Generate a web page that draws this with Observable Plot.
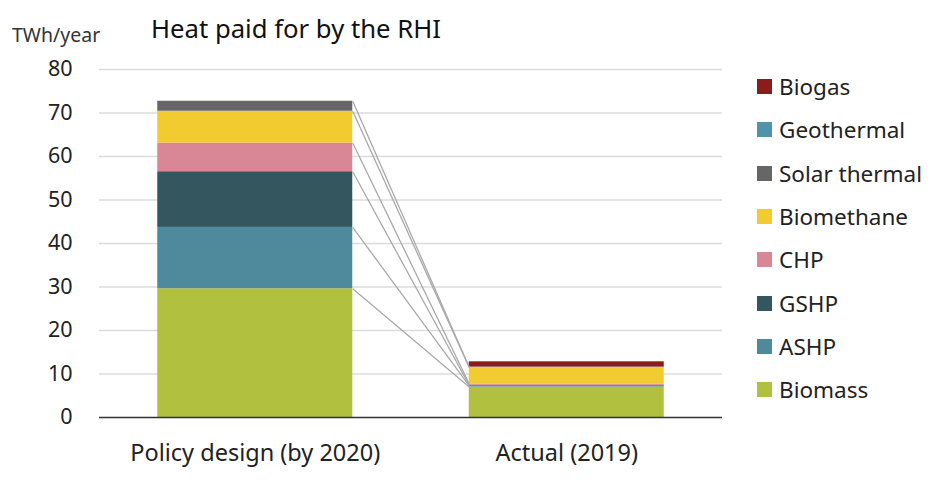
<!DOCTYPE html>
<html>
<head>
<meta charset="utf-8">
<script src="https://cdn.jsdelivr.net/npm/d3@7"></script>
<script src="https://cdn.jsdelivr.net/npm/@observablehq/plot@0.6"></script>
<style>
  html, body { margin: 0; padding: 0; background: #fff; }
  #wrap { position: relative; width: 936px; height: 490px; font-family: "Noto Sans", "Open Sans", sans-serif; color: #222; }
  #title { position: absolute; left: 151px; top: 14px; font-size: 25.7px; color: #111; white-space: nowrap; line-height: 1.2; }
  #unit { position: absolute; left: 12px; top: 23px; font-size: 19.5px; color: #333; white-space: nowrap; line-height: 1.2; }
  #legend { position: absolute; left: 757px; top: 65px; }
  .row { display: flex; align-items: center; height: 43.3px; font-size: 22.5px; color: #222; white-space: nowrap; }
  .sw { width: 15px; height: 15px; margin-right: 7px; flex: none; }
  svg { position: absolute; left: 0; top: 0; }
</style>
</head>
<body>
<div id="wrap">
  <div id="unit">TWh/year</div>
  <div id="title">Heat paid for by the RHI</div>
  <div id="legend"></div>
</div>
<script>
// Categories (bars)
const categories = ["Policy design (by 2020)", "Actual (2019)"];
// Series, bottom of stack first
const series = ["Biomass", "ASHP", "GSHP", "CHP", "Biomethane", "Solar thermal", "Geothermal", "Biogas"];
const colors = ["#b2c040", "#4e8a9b", "#33565f", "#d98797", "#f2cb31", "#666666", "#4f94a8", "#8a1c1c"];
// Values (TWh/year) per series for each category
const policyValues = [29.6, 14.1, 12.8, 6.6, 7.3, 2.3, 0, 0];
const actualValues = [7.0, 0.25, 0.15, 0.3, 3.8, 0.05, 0.05, 1.2];
const yTicks = [0, 10, 20, 30, 40, 50, 60, 70, 80];

const halfWidth = 0.313;
const valuesByCat = [policyValues, actualValues];

// Stacked rectangles
const rects = [];
const tops = [];
valuesByCat.forEach((vals, ci) => {
  let acc = 0;
  const t = [];
  vals.forEach((v, si) => {
    rects.push({cat: ci, series: series[si], y1: acc, y2: acc + v, value: v});
    acc += v;
    t.push(acc);
  });
  tops.push(t);
});
const rectsShown = rects.filter(d => d.value > 0);

// Series lines connecting the top of each series between bars
const links = series
  .map((s, si) => ({series: s, y1: tops[0][si], y2: tops[1][si], v: policyValues[si]}))
  .filter(d => d.v > 0);

const chart = Plot.plot({
  width: 936,
  height: 490,
  marginLeft: 99,
  marginRight: 214,
  marginTop: 69,
  marginBottom: 73,
  style: {fontFamily: "'Noto Sans', 'Open Sans', sans-serif", background: "transparent", color: "#222"},
  x: {domain: [-0.5, 1.5], axis: null},
  y: {domain: [0, 80], axis: null},
  color: {domain: series, range: colors},
  marks: [
    Plot.ruleY(yTicks.filter(d => d > 0), {stroke: "#dcdcdc", strokeWidth: 1.3}),
    Plot.rect(rectsShown, {
      x1: d => d.cat - halfWidth,
      x2: d => d.cat + halfWidth,
      y1: "y1",
      y2: "y2",
      fill: "series"
    }),
    Plot.link(links, {
      x1: () => 0 + halfWidth,
      x2: () => 1 - halfWidth,
      y1: "y1",
      y2: "y2",
      stroke: "#a9a9a9",
      strokeWidth: 1.3
    }),
    Plot.ruleY([0], {stroke: "#333", strokeWidth: 1.6}),
    Plot.axisY(yTicks, {tickSize: 0, tickPadding: 27, fontSize: 21.5, fill: "#222", label: null}),
    Plot.axisX([0, 1], {tickSize: 0, tickPadding: 27, fontSize: 23.5, fill: "#222", label: null,
      tickFormat: i => categories[i]})
  ]
});
document.getElementById("wrap").appendChild(chart);

// Legend (top of stack first)
const legend = document.getElementById("legend");
series.slice().reverse().forEach(s => {
  const row = document.createElement("div");
  row.className = "row";
  const sw = document.createElement("div");
  sw.className = "sw";
  sw.style.background = colors[series.indexOf(s)];
  const lab = document.createElement("span");
  lab.textContent = s;
  row.appendChild(sw);
  row.appendChild(lab);
  legend.appendChild(row);
});
</script>
</body>
</html>
